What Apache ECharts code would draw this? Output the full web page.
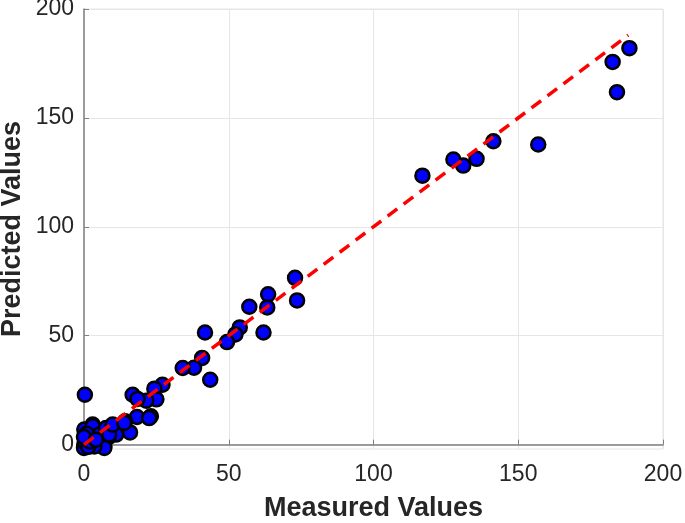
<!DOCTYPE html>
<html>
<head>
<meta charset="utf-8">
<script src="https://cdn.jsdelivr.net/npm/echarts@6/dist/echarts.min.js"></script>
<style>html,body{margin:0;padding:0;background:#fff;}#c{width:685px;height:523px;}</style>
</head>
<body>
<div id="c"></div>
<script>
const measured = [188.4,182.6,184.1,156.9,141.4,135.6,131.0,127.6,116.9,
  72.9,73.6,63.6,63.3,57.1,62.0,53.8,52.3,49.4,41.8,40.8,38.0,34.1,43.6,27.1,
  24.3,25.0,21.5,16.8,18.5,23.1,18.3,14.2,15.9,11.1,8.5,7.4,4.6,3.0,0.3,7.0,
  0.1,3.0,0.7,0.1,0.0,2.4,5.3,5.9,7.6,8.7,7.0,3.6,9.9,13.9,0.5,1.0,0.3,1.5,2.0,0.0,4.1,22.5];
const predicted = [182.0,175.7,161.8,137.8,139.3,131.2,128.1,130.9,123.5,
  76.6,66.2,69.0,63.0,63.3,51.5,53.8,50.6,47.1,51.5,39.8,35.3,35.2,29.8,27.5,
  25.7,20.8,20.2,22.9,21.0,13.0,12.7,10.7,5.6,4.6,3.4,7.2,6.1,9.2,22.9,-0.8,
  6.9,8.4,4.6,0.0,-1.5,3.1,4.6,1.5,7.6,4.6,-1.5,-0.8,9.2,10.0,2.0,5.0,1.0,-1.0,1.5,3.5,2.3,12.2];
const fitLine = [[0,0],[188,188]];
const tickValues = [0,50,100,150,200];

const chart = echarts.init(document.getElementById('c'));
const labelStyle = {color:'#262626', fontSize:23, fontFamily:'Liberation Sans, Arial, sans-serif'};
const nameStyle = {color:'#262626', fontSize:27, fontWeight:'bold', fontFamily:'Liberation Sans, Arial, sans-serif'};
chart.setOption({
  animation:false,
  grid:{left:84, right:22, top:9, bottom:74, outerBoundsMode:'none', containLabel:false,
        show:true, borderColor:'#e6e6e6', borderWidth:1},
  xAxis:{
    type:'value', min:0, max:200, interval:50,
    name:'Measured Values', nameLocation:'middle', nameGap:46,
    nameTextStyle:nameStyle,
    axisLine:{show:true, lineStyle:{color:'#808080', width:1.5}},
    axisTick:{show:true, inside:true, length:5, lineStyle:{color:'#808080'}},
    axisLabel:Object.assign({margin:14}, labelStyle),
    splitLine:{show:true, lineStyle:{color:'#e6e6e6', width:1}}
  },
  yAxis:{
    type:'value', min:-2, max:200,
    name:'Predicted Values', nameLocation:'middle', nameGap:58, nameMoveOverlap:false,
    nameTextStyle:nameStyle,
    axisLine:{show:true, lineStyle:{color:'#808080', width:1.5}},
    axisTick:{show:true, inside:true, length:5, lineStyle:{color:'#808080'}, customValues:tickValues},
    axisLabel:Object.assign({margin:10, customValues:tickValues}, labelStyle),
    splitLine:{show:true, lineStyle:{color:'#e6e6e6', width:1}}
  },
  series:[
    {
      type:'scatter',
      data:measured.map((m,i)=>[m, predicted[i]]),
      symbolSize:14,
      itemStyle:{color:'#0000ff', borderColor:'#000', borderWidth:2.5, opacity:1},
      z:2
    },
    {
      type:'line',
      data:fitLine,
      showSymbol:false,
      lineStyle:{color:'#ff0000', width:3.5, type:[12,8]},
      z:3
    }
  ]
});
</script>
</body>
</html>
